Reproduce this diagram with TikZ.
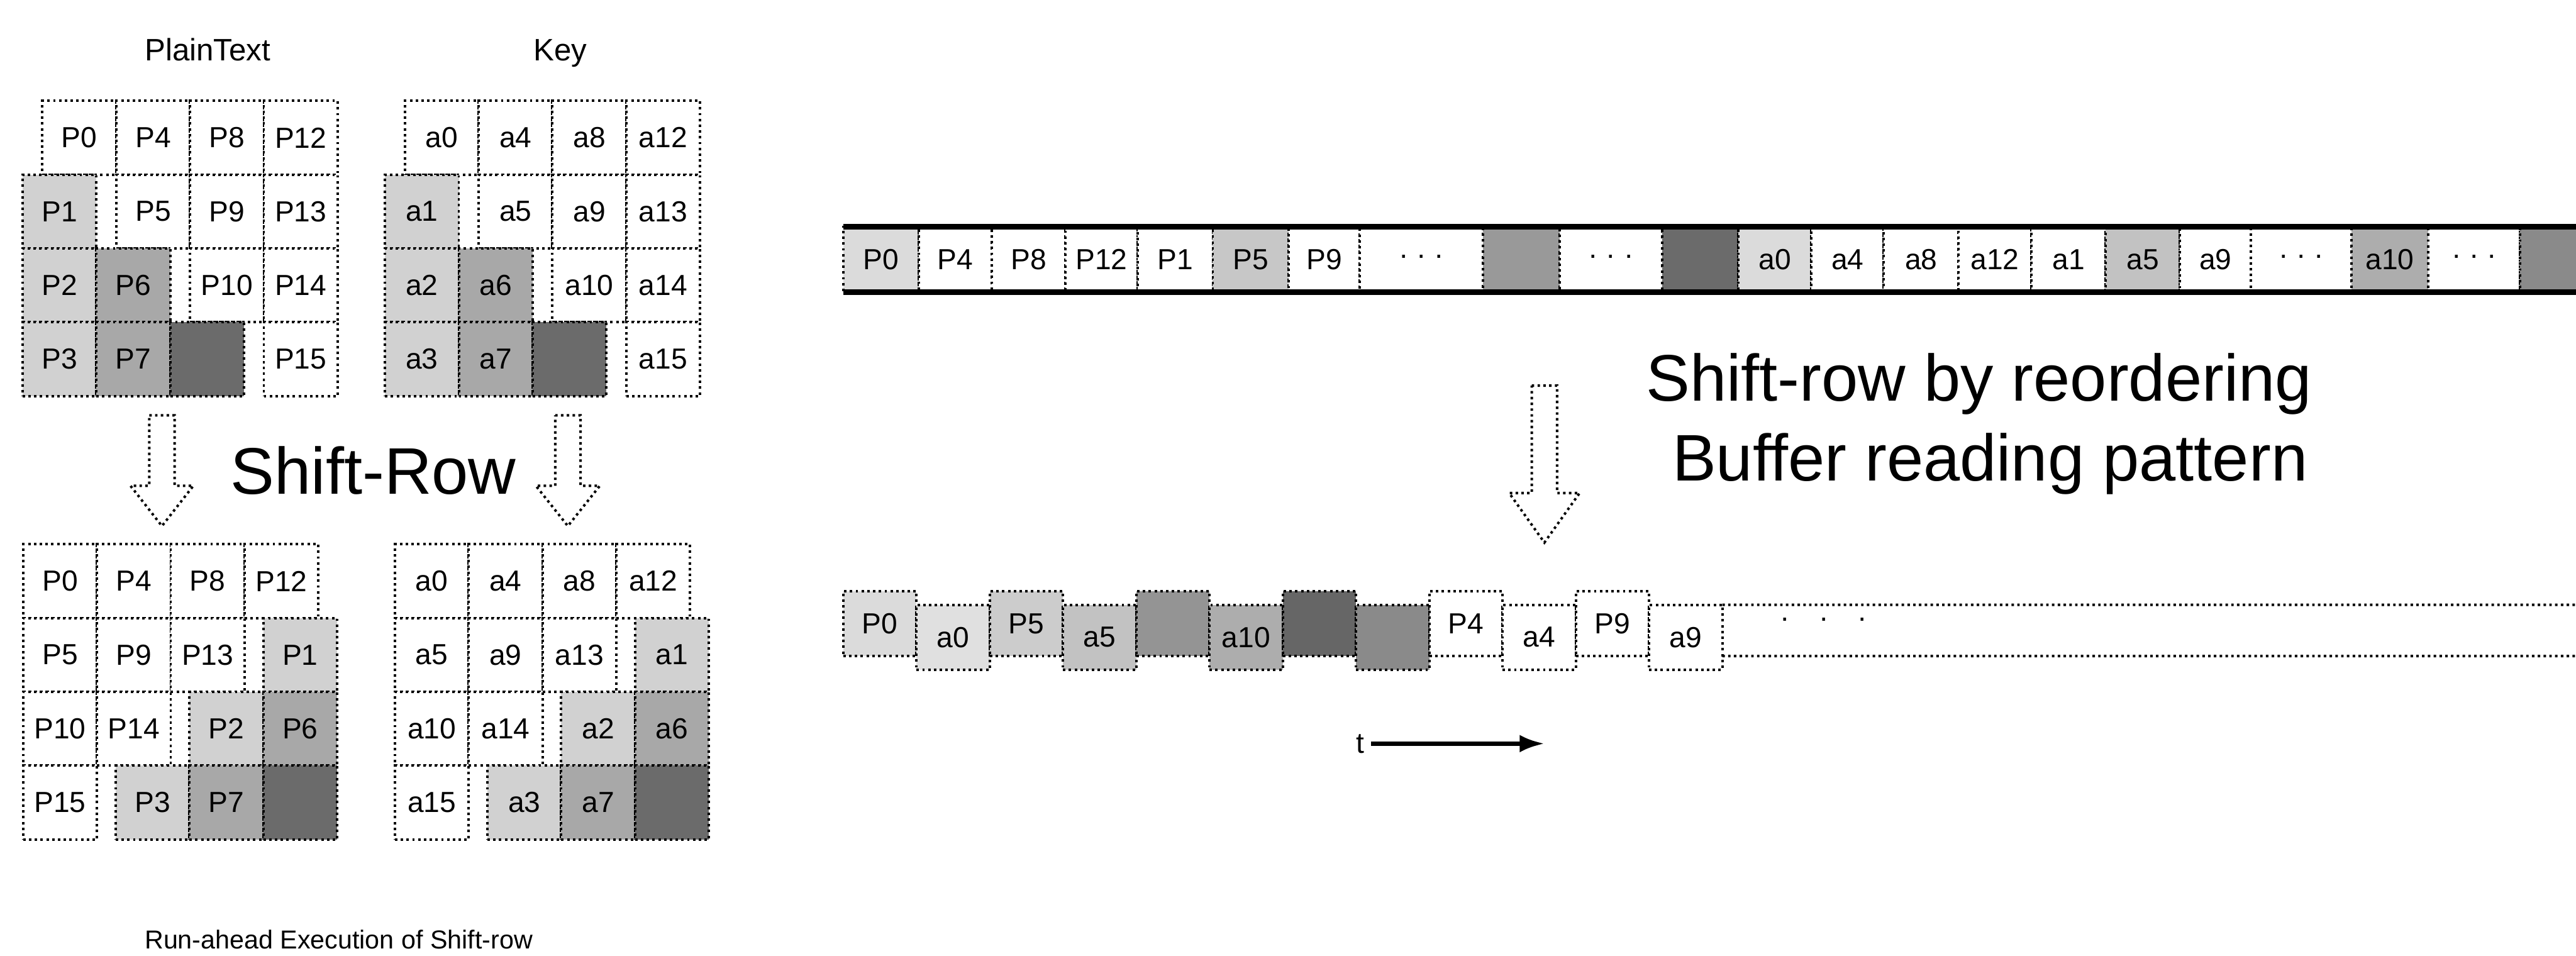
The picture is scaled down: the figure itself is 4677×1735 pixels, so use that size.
\documentclass[tikz,border=0pt]{standalone}
\usepackage{fontspec}
\setmainfont{Liberation Sans}
\usetikzlibrary{arrows.meta}

\begin{document}
\begin{tikzpicture}[x=0.1mm,y=-0.1mm,
  dotline/.style={line width=0.45mm,dash pattern=on 0.45mm off 0.6mm},
  cellbox/.style={draw,dotline,minimum width=13.4mm,minimum height=13.4mm,inner sep=0pt,outer sep=0pt,font=\fontsize{15}{18}\selectfont},
  bufcell/.style={cellbox,minimum height=11.8mm},
  rowcell/.style={cellbox,minimum width=13.3mm,minimum height=11.8mm},
  framebar/.style={line width=1mm},
  hollow/.style={dotline,fill=white},
  headlbl/.style={font=\fontsize{16}{19}\selectfont,anchor=base},
  captlbl/.style={font=\fontsize{13.4}{16}\selectfont,anchor=base},
  biglbl/.style={font=\fontsize{34}{41}\selectfont,anchor=base}]
\useasboundingbox (0,0) rectangle (4677,1735);
\clip (0,0) rectangle (4677,1735);
\node[headlbl] (hdr-pt) at (377,110){PlainText};
\node[headlbl] (hdr-key) at (1017,110){Key};
% state and key before the shift
\foreach \r in {0,...,3}{\foreach \c in {0,...,3}{
  \pgfmathtruncatemacro{\idx}{\r+4*\c}
  \pgfmathtruncatemacro{\lv}{\c<\r ? \c+1 : 0}
  \pgfmathtruncatemacro{\pct}{(\lv==1)*18+(\lv==2)*34+(\lv==3)*58}
  \pgfmathsetmacro{\dx}{\lv>0 ? -36 : 0}
  \pgfmathsetmacro{\y}{250+134*\r}
  \node[cellbox,fill=black!\pct] (pin-\r-\c) at (144+134*\c+\dx,\y){\ifnum\lv<3 P\idx\fi};
  \node[cellbox,fill=black!\pct] (kin-\r-\c) at (802+134*\c+\dx,\y){\ifnum\lv<3 a\idx\fi};
}}
\foreach \ax/\ya/\yb/\yc/\hw in {294/754/882/955/57,1031/754/882/955/58,2804/700/895/985/64}{
  \draw[hollow] (\ax-23,\ya) -- (\ax+23,\ya) -- (\ax+23,\yb) -- (\ax+\hw,\yb) -- (\ax,\yc)
    -- (\ax-\hw,\yb) -- (\ax-23,\yb) -- cycle;
}
\node[biglbl] (shiftrow) at (678,897){Shift-Row};
% state and key after the shift
\foreach \r in {0,...,3}{\foreach \c in {0,...,3}{
  \pgfmathtruncatemacro{\idx}{\r+4*mod(\c+\r,4)}
  \pgfmathtruncatemacro{\lv}{\c+\r>3 ? \c+\r-3 : 0}
  \pgfmathtruncatemacro{\pct}{(\lv==1)*18+(\lv==2)*34+(\lv==3)*58}
  \pgfmathsetmacro{\dx}{\lv>0 ? 34 : 0}
  \pgfmathsetmacro{\y}{1055+134*\r}
  \node[cellbox,fill=black!\pct] (pout-\r-\c) at (109+134*\c+\dx,\y){\ifnum\lv<3 P\idx\fi};
  \node[cellbox,fill=black!\pct] (kout-\r-\c) at (784+134*\c+\dx,\y){\ifnum\lv<3 a\idx\fi};
}}
\node[captlbl] (caption) at (615,1722){Run-ahead Execution of Shift-row};
% buffer as stored
\foreach \xa/\xb/\lab/\pct [count=\i] in {1531/1668/P0/14,1668/1801/P4/0,1801/1934/P8/0,
  1934/2066/P12/0,2066/2202/P1/0,2202/2340/P5/22,2340/2469/P9/0,2469/2692/· · ·/0,
  2692/2832/{}/40,2832/3018/· · ·/0,3018/3156/{}/58,3156/3289/a0/14,3289/3420/a4/0,
  3420/3556/a8/0,3556/3688/a12/0,3688/3823/a1/0,3823/3958/a5/24,3958/4087/a9/0,
  4087/4269/· · ·/0,4269/4409/a10/32,4409/4575/· · ·/0,4575/4720/{}/46}{
  \pgfmathsetmacro{\w}{(\xb-\xa)/10}
  \node[bufcell,minimum width=\w mm,fill=black!\pct] (buf-\i) at ({(\xa+\xb)/2},471){\lab};
}
\draw[framebar] (buf-1.north west) -- (buf-22.north east);
\draw[framebar] (buf-1.south west) -- (buf-22.south east);
\node[biglbl] (reorder-a) at (3593,728){Shift-row by reordering};
\node[biglbl] (reorder-b) at (3613,873){Buffer reading pattern};
% buffer as read
\foreach \xa/\yc/\lab/\pct [count=\i] in {1531/1132/P0/14,1664/1157/a0/12,1797/1132/P5/20,
  1930/1157/a5/24,2063/1132/{}/42,2196/1157/a10/32,2329/1132/{}/60,2462/1157/{}/46,
  2595/1132/P4/0,2728/1157/a4/0,2861/1132/P9/0,2994/1157/a9/0}{
  \node[rowcell,fill=black!\pct] (row-\i) at (\xa+66.5,\yc){\lab};
}
\coordinate (rowend-top) at (4700,1098);
\coordinate (rowend-bot) at (4700,1191);
\draw[dotline] (row-12.north east) -- (rowend-top);
\draw[dotline] (row-12.east |- row-11.south) -- (rowend-bot);
\node[font=\fontsize{15}{18}\selectfont] (row-more) at (3311,1130){·\quad·\quad·};
\node[font=\fontsize{15}{18}\selectfont] (tlbl) at (2470,1350){t};
\coordinate (tend) at (2804,1350);
\draw[line width=0.8mm,-{Latex[length=4.5mm,width=3.2mm]}] (tlbl) -- (tend);
\end{tikzpicture}
\end{document}
